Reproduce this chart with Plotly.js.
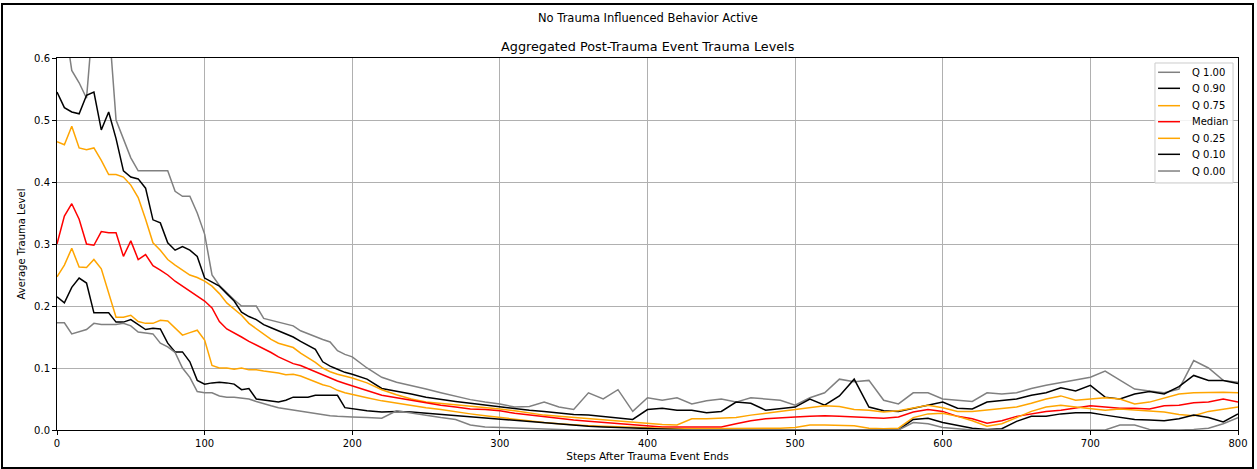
<!DOCTYPE html>
<html>
<head>
<meta charset="utf-8">
<script src="https://cdn.plot.ly/plotly-3.0.1.min.js"></script>
<style>
  html, body { margin: 0; padding: 0; background: #fff; }
  #wrap { position: relative; width: 1257px; height: 469px; }
  #chart { width: 1257px; height: 469px; }
  #frame { position: absolute; left: 1px; top: 3px; width: 1249px; height: 462px; border: 2px solid #000; pointer-events: none; }
</style>
</head>
<body>
<div id="wrap"><div id="chart"></div><div id="frame"></div></div>
<script>
const steps = [0,5,10,15,20,25,30,35,40,45,50,55,60,65,70,75,80,85,90,95,100,105,110,115,120,125,130,135,140,145,150,155,160,165,170,175,180,185,190,195,200,
  210,220,230,240,250,260,270,280,290,300,310,320,330,340,350,360,370,380,390,400,410,420,430,440,450,460,470,480,490,500,510,520,530,540,550,560,570,580,590,600,610,620,630,640,650,660,670,680,690,700,710,720,730,740,750,760,770,780,790,800];

const q100 = [0.68,0.66,0.58,0.56,0.535,0.68,0.68,0.66,0.5,0.47,0.439,0.418,0.418,0.418,0.418,0.418,0.385,0.377,0.377,0.35,0.316,0.25,0.233,0.221,0.21,0.2,0.2,0.2,0.18,0.177,0.174,0.172,0.168,0.16,0.155,0.15,0.146,0.142,0.128,0.122,0.118,
  0.1,0.085,0.077,0.072,0.066,0.06,0.054,0.049,0.045,0.042,0.037,0.038,0.045,0.037,0.033,0.06,0.05,0.065,0.03,0.052,0.048,0.052,0.042,0.047,0.05,0.045,0.052,0.05,0.048,0.04,0.052,0.06,0.082,0.078,0.08,0.048,0.042,0.06,0.06,0.05,0.048,0.046,0.06,0.058,0.06,0.067,0.072,0.076,0.08,0.085,0.095,0.08,0.066,0.063,0.06,0.066,0.112,0.1,0.08,0.077];

const q90 = [0.545,0.52,0.513,0.51,0.54,0.545,0.484,0.513,0.47,0.418,0.408,0.405,0.39,0.339,0.334,0.302,0.29,0.296,0.29,0.28,0.245,0.238,0.232,0.22,0.208,0.19,0.183,0.178,0.17,0.165,0.16,0.155,0.15,0.143,0.136,0.13,0.11,0.103,0.098,0.093,0.09,
  0.082,0.067,0.063,0.058,0.053,0.049,0.046,0.043,0.04,0.037,0.034,0.032,0.03,0.027,0.025,0.024,0.022,0.02,0.017,0.033,0.035,0.032,0.032,0.028,0.03,0.045,0.043,0.032,0.034,0.037,0.05,0.04,0.055,0.082,0.037,0.031,0.03,0.035,0.04,0.045,0.035,0.034,0.045,0.048,0.05,0.056,0.06,0.068,0.063,0.072,0.053,0.05,0.058,0.062,0.058,0.07,0.088,0.08,0.08,0.075];

const q75 = [0.465,0.46,0.49,0.455,0.452,0.455,0.435,0.412,0.412,0.408,0.395,0.375,0.34,0.302,0.29,0.275,0.266,0.258,0.25,0.246,0.24,0.232,0.22,0.205,0.195,0.185,0.172,0.163,0.154,0.146,0.14,0.136,0.133,0.124,0.117,0.109,0.1,0.094,0.09,0.087,0.084,
  0.076,0.065,0.057,0.05,0.045,0.043,0.04,0.038,0.036,0.034,0.031,0.027,0.024,0.022,0.02,0.018,0.016,0.014,0.012,0.01,0.009,0.008,0.018,0.018,0.019,0.02,0.024,0.027,0.029,0.032,0.036,0.039,0.038,0.033,0.032,0.029,0.031,0.036,0.04,0.036,0.03,0.03,0.032,0.035,0.037,0.043,0.05,0.055,0.048,0.05,0.052,0.05,0.042,0.045,0.052,0.058,0.06,0.061,0.061,0.06];

const median = [0.3,0.345,0.365,0.34,0.3,0.298,0.32,0.318,0.318,0.28,0.305,0.275,0.283,0.265,0.258,0.25,0.24,0.232,0.224,0.215,0.208,0.197,0.175,0.163,0.157,0.15,0.143,0.137,0.132,0.125,0.118,0.113,0.107,0.104,0.099,0.094,0.088,0.083,0.079,0.075,0.071,
  0.064,0.056,0.052,0.048,0.043,0.04,0.037,0.034,0.033,0.031,0.027,0.024,0.022,0.018,0.016,0.014,0.012,0.01,0.008,0.006,0.005,0.005,0.005,0.005,0.005,0.01,0.015,0.018,0.02,0.021,0.022,0.023,0.022,0.021,0.019,0.019,0.021,0.029,0.033,0.03,0.022,0.018,0.011,0.015,0.022,0.026,0.03,0.032,0.036,0.039,0.037,0.035,0.035,0.034,0.039,0.04,0.044,0.045,0.05,0.045];

const q25 = [0.247,0.266,0.293,0.263,0.262,0.275,0.26,0.22,0.182,0.182,0.185,0.175,0.172,0.172,0.177,0.176,0.165,0.153,0.157,0.161,0.145,0.104,0.1,0.1,0.098,0.1,0.097,0.097,0.095,0.094,0.092,0.089,0.09,0.087,0.082,0.077,0.073,0.07,0.064,0.06,0.057,
  0.052,0.047,0.043,0.04,0.036,0.033,0.029,0.026,0.023,0.02,0.017,0.014,0.012,0.01,0.008,0.007,0.006,0.005,0.004,0.003,0.002,0.002,0.002,0.002,0.002,0.002,0.003,0.003,0.003,0.004,0.008,0.008,0.008,0.007,0.003,0.002,0.003,0.02,0.026,0.027,0.022,0.015,0.006,0.01,0.02,0.03,0.037,0.04,0.037,0.034,0.032,0.034,0.032,0.031,0.029,0.025,0.023,0.03,0.034,0.037];

const q10 = [0.215,0.205,0.23,0.245,0.237,0.189,0.189,0.189,0.174,0.174,0.178,0.17,0.162,0.164,0.163,0.14,0.126,0.126,0.11,0.08,0.074,0.076,0.077,0.076,0.074,0.065,0.067,0.05,0.048,0.047,0.045,0.048,0.053,0.053,0.053,0.056,0.056,0.056,0.056,0.036,0.034,
  0.031,0.029,0.03,0.029,0.027,0.025,0.023,0.022,0.02,0.017,0.015,0.013,0.011,0.009,0.008,0.006,0.005,0.004,0.003,0.002,0.001,0,0,0,0,0,0,0,0,0,0,0,0,0,0,0,0,0.017,0.019,0.012,0.008,0.003,0.001,0.002,0.014,0.022,0.022,0.026,0.028,0.028,0.024,0.02,0.017,0.016,0.015,0.018,0.024,0.02,0.013,0.026];

const q00 = [0.173,0.173,0.155,0.158,0.162,0.172,0.17,0.17,0.17,0.172,0.168,0.158,0.156,0.155,0.14,0.134,0.125,0.1,0.085,0.062,0.06,0.06,0.055,0.053,0.053,0.052,0.05,0.046,0.042,0.039,0.036,0.034,0.033,0.031,0.029,0.027,0.025,0.023,0.022,0.021,0.021,
  0.02,0.019,0.031,0.027,0.023,0.02,0.017,0.008,0.005,0.004,0.003,0.002,0.001,0,0,0,0,0,0,0,0,0,0,0,0,0,0,0,0,0,0,0,0,0,0,0,0,0.012,0.01,0.004,0.002,0,0,0,0,0,0,0,0,0,0,0.008,0.008,0.001,0,0,0.001,0.003,0.01,0.02];

const seriesNames = ['Q 1.00','Q 0.90','Q 0.75','Median','Q 0.25','Q 0.10','Q 0.00'];
const seriesColors = ['grey','black','orange','red','orange','black','grey'];
const seriesData = [q100, q90, q75, median, q25, q10, q00];

const FONT = 'DejaVu Sans, sans-serif';

const traces = seriesData.map((ys, i) => ({
  x: steps, y: ys, type: 'scatter', mode: 'lines', name: seriesNames[i],
  line: {color: seriesColors[i], width: 1.5}, showlegend: false
}));

// Legend drawn as paper-space shapes + text (matplotlib-like spacing)
const legBox = {x0: 0.9297, x1: 0.9958, y0: 0.664, y1: 0.9866};
const legRows = [0.9616, 0.9185, 0.8718, 0.8288, 0.7841, 0.7411, 0.6962];
const shapes = [{type: 'rect', xref: 'paper', yref: 'paper', x0: legBox.x0, x1: legBox.x1, y0: legBox.y0, y1: legBox.y1,
  fillcolor: 'rgba(255,255,255,0.85)', line: {color: '#cccccc', width: 1}, layer: 'above'}];
const annotations = [
  {text: 'No Trauma Influenced Behavior Active', xref: 'paper', yref: 'paper', x: 0.5, y: 1.1075,
    xanchor: 'center', yanchor: 'middle', showarrow: false, font: {family: FONT, size: 11.5, color: '#000'}},
  {text: 'Aggregated Post-Trauma Event Trauma Levels', xref: 'paper', yref: 'paper', x: 0.5, y: 1.0296,
    xanchor: 'center', yanchor: 'middle', showarrow: false, font: {family: FONT, size: 12.8, color: '#000'}}
];
seriesNames.forEach((nm, i) => {
  shapes.push({type: 'line', xref: 'paper', yref: 'paper', x0: 0.9323, x1: 0.9509, y0: legRows[i], y1: legRows[i],
    line: {color: seriesColors[i], width: 1.5}, layer: 'above'});
  annotations.push({text: nm, xref: 'paper', yref: 'paper', x: 0.9594, y: legRows[i], xanchor: 'left', yanchor: 'middle',
    showarrow: false, font: {family: FONT, size: 10, color: '#000'}});
});

const layout = {
  width: 1257, height: 469,
  margin: {l: 57, r: 19, t: 58, b: 39},
  paper_bgcolor: '#fff', plot_bgcolor: '#fff',
  font: {family: FONT, size: 10, color: '#000'},
  showlegend: false,
  xaxis: {range: [0, 800], tickvals: [0,100,200,300,400,500,600,700,800],
    showgrid: true, gridcolor: '#b0b0b0', gridwidth: 1, zeroline: false,
    showline: true, linecolor: '#000', linewidth: 1, mirror: true,
    ticks: 'outside', ticklen: 4, tickcolor: '#000', tickwidth: 1,
    tickfont: {family: FONT, size: 10, color: '#000'},
    title: {text: 'Steps After Trauma Event Ends', font: {family: FONT, size: 10.5, color: '#000'}, standoff: 4}},
  yaxis: {range: [0, 0.6], tickvals: [0,0.1,0.2,0.3,0.4,0.5,0.6], tickformat: '.1f',
    showgrid: true, gridcolor: '#b0b0b0', gridwidth: 1, zeroline: false,
    showline: true, linecolor: '#000', linewidth: 1, mirror: true,
    ticks: 'outside', ticklen: 4, tickcolor: '#000', tickwidth: 1,
    tickfont: {family: FONT, size: 10, color: '#000'},
    title: {text: 'Average Trauma Level', font: {family: FONT, size: 10, color: '#000'}, standoff: 6}},
  shapes: shapes,
  annotations: annotations
};

Plotly.newPlot('chart', traces, layout, {staticPlot: true, displayModeBar: false});
</script>
</body>
</html>
